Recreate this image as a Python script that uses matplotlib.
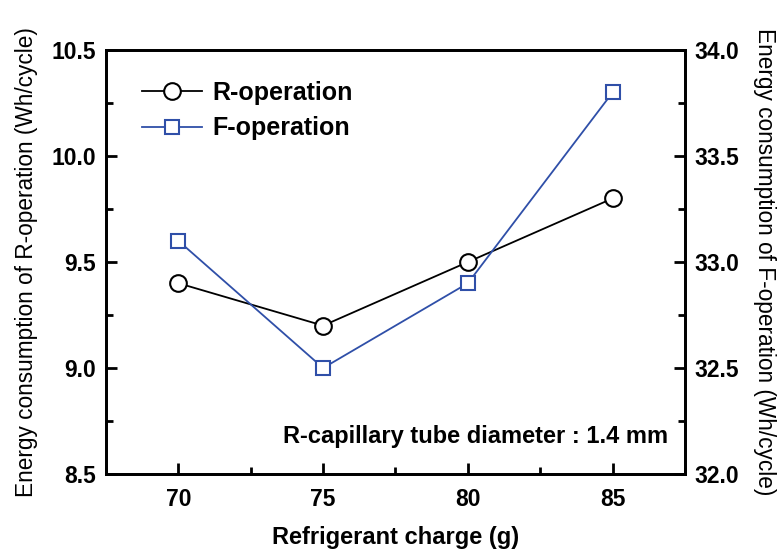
import numpy as np
import matplotlib.pyplot as plt
from matplotlib.ticker import MultipleLocator

plt.rcParams['font.family'] = ['Liberation Sans', 'DejaVu Sans']

charge = [70, 75, 80, 85]
r_energy = [9.4, 9.2, 9.5, 9.8]
f_energy = [33.1, 32.5, 32.9, 33.8]

blue = '#2f4fa8'

fig = plt.figure(figsize=(7.82, 5.51), dpi=100)
ax = fig.add_axes([0.1355, 0.1397, 0.7405, 0.7696])
ax2 = ax.twinx()

l1, = ax.plot(charge, r_energy, 'k-', lw=1.3, marker='o', ms=12,
              mfc='white', mec='black', mew=1.5, label='R-operation')
l2, = ax2.plot(charge, f_energy, '-', color=blue, lw=1.3, marker='s', ms=10,
               mfc='white', mec=blue, mew=1.5, label='F-operation')

ax.set_xlim(67.5, 87.5)
ax.set_ylim(8.5, 10.5)
ax2.set_ylim(32.0, 34.0)
ax.set_xticks(charge)
ax.xaxis.set_minor_locator(MultipleLocator(2.5))
ax.yaxis.set_major_locator(MultipleLocator(0.5))
ax.yaxis.set_minor_locator(MultipleLocator(0.25))
ax2.yaxis.set_major_locator(MultipleLocator(0.5))
ax2.yaxis.set_minor_locator(MultipleLocator(0.25))
ax.yaxis.set_major_formatter(plt.FormatStrFormatter('%.1f'))
ax2.yaxis.set_major_formatter(plt.FormatStrFormatter('%.1f'))

for a in (ax, ax2):
    for s in a.spines.values():
        s.set_linewidth(2)
    a.tick_params(which='major', direction='in', length=8, width=2, labelsize=16.5, pad=7)
    a.tick_params(which='minor', direction='in', length=5, width=2)
    for lab in a.get_xticklabels() + a.get_yticklabels():
        lab.set_fontweight('bold')
ax.tick_params(axis='x', pad=10)

ax.set_xlabel('Refrigerant charge (g)', fontsize=17, fontweight='bold', labelpad=11)
ax.set_ylabel('Energy consumption of R-operation (Wh/cycle)', fontsize=16.3, labelpad=10)
ax2.set_ylabel('Energy consumption of F-operation (Wh/cycle)', fontsize=16.3,
               rotation=270, labelpad=26)

leg = ax.legend(handles=[l1, l2], loc='upper left', bbox_to_anchor=(0.045, 0.95),
                frameon=False, fontsize=18, handlelength=2.4, handletextpad=0.4,
                labelspacing=0.45, borderaxespad=0)
for t in leg.get_texts():
    t.set_fontweight('bold')

ax.text(0.97, 0.088, 'R-capillary tube diameter : 1.4 mm', transform=ax.transAxes,
        ha='right', va='center', fontsize=17, fontweight='bold')

plt.savefig('out.png', dpi=100)
